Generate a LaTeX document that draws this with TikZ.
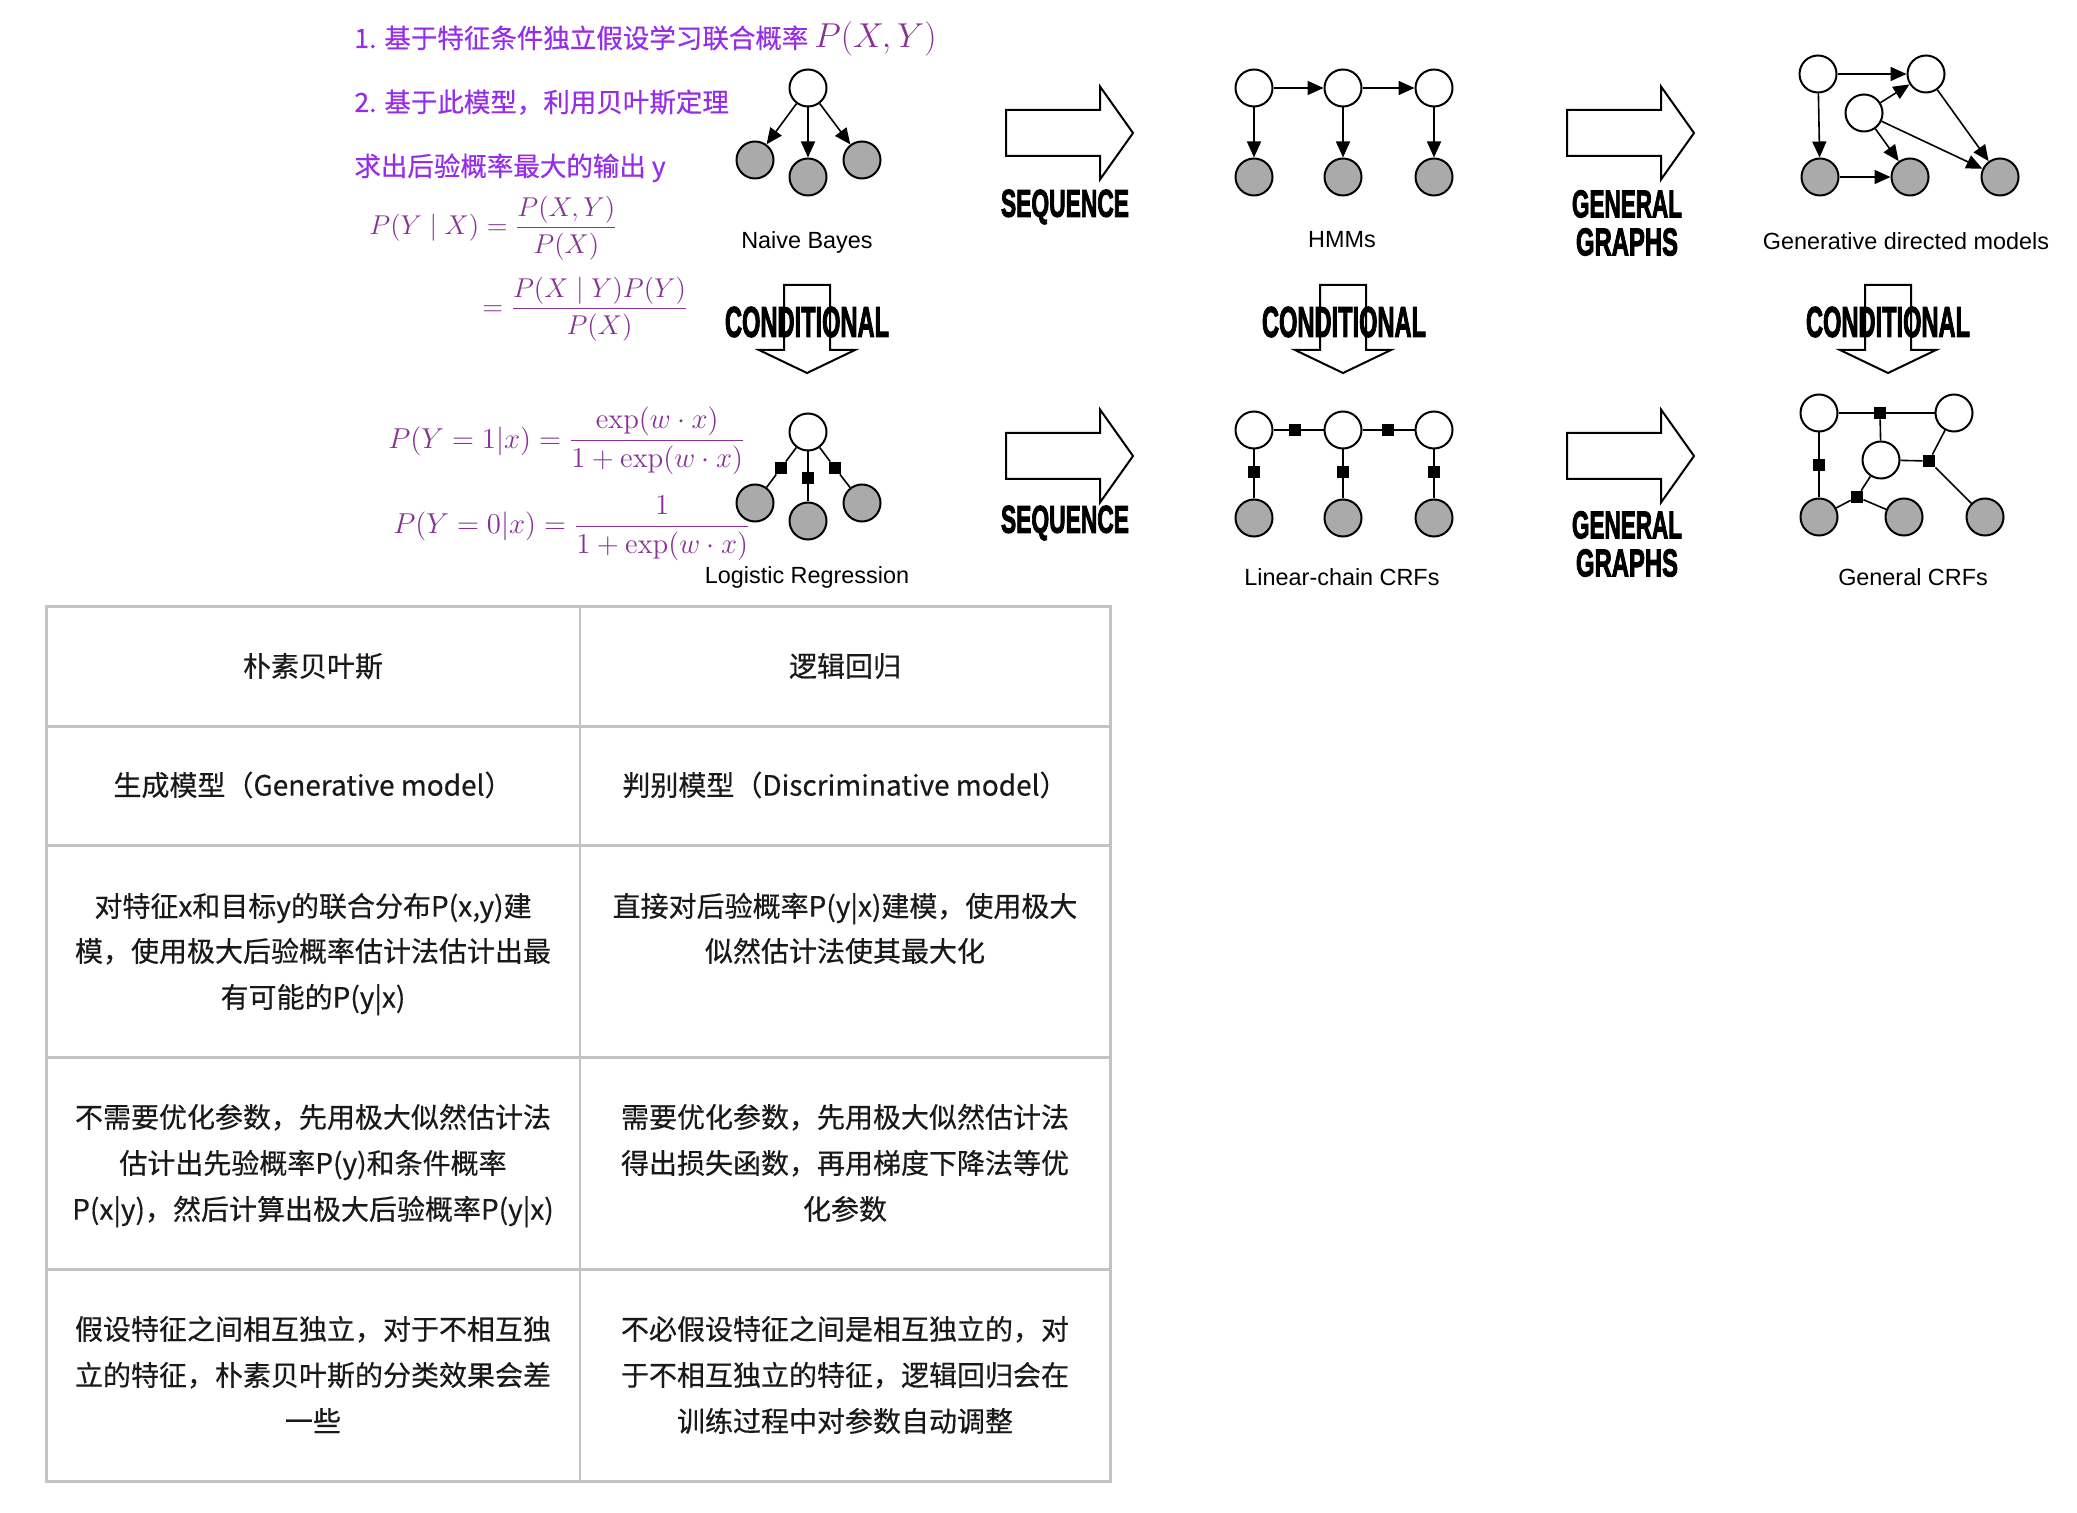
\documentclass[tikz,border=0pt]{standalone}
\usepackage{fix-cm}
\usepackage[no-math]{fontspec}
\usepackage{amsmath}
\usepackage{graphicx}
\setmainfont{Liberation Sans}
\newfontfamily\cjk[FakeBold=0.4]{Noto Sans CJK SC}
\newfontfamily\impactfont[FakeBold=3]{Liberation Sans Bold}
\usetikzlibrary{arrows.meta}
\definecolor{txtviolet}{RGB}{150,45,235}
\definecolor{mathpurple}{RGB}{135,50,150}
\definecolor{nodegray}{RGB}{170,170,170}
\definecolor{tabline}{RGB}{195,195,195}
\definecolor{tabtext}{RGB}{25,25,25}
\newcommand{\bigword}[3]{\resizebox{#1}{#2}{\impactfont #3}}
\begin{document}
\begin{tikzpicture}[x=0.5pt,y=-0.5pt,
  wn/.style={circle,draw,line width=1pt,fill=white,minimum size=18.5pt,inner sep=0pt},
  gn/.style={wn,fill=nodegray},
  fac/.style={rectangle,fill=black,minimum size=6pt,inner sep=0pt},
  edge/.style={line width=0.8pt},
  arr/.style={edge,-{Triangle[length=8pt,width=7pt]}},
  bigarrow/.style={draw,line width=1pt,fill=white,line join=miter},
  lbl/.style={font=\fontsize{11.7}{13}\selectfont,text=black,inner sep=0pt},
  ptext/.style={font=\cjk\fontsize{13.25}{16}\selectfont,text=txtviolet,anchor=base west,inner sep=0pt},
  fml/.style={text=mathpurple,anchor=west,inner sep=0pt,font=\fontsize{14.4}{17}\selectfont},
  fmlsmall/.style={fml,font=\fontsize{13.6}{16}\selectfont},
  cell/.style={font=\cjk\fontsize{14}{17}\selectfont,text=tabtext,text height=13pt,text depth=2.4pt,inner sep=0pt},
  tab/.style={draw=tabline,line width=1.5pt},
  word/.style={inner sep=0pt}
]
\fill[white] (0,0) rectangle (2077,1513);
\useasboundingbox (0,0) rectangle (2077,1513);

% ---------- purple text ----------
\node[ptext] (t1) at (354,48) {1. 基于特征条件独立假设学习联合概率 {\fontsize{17.28}{20}\selectfont\color{mathpurple}$P(X,Y)$}};
\node[ptext] (t2) at (354,112) {2. 基于此模型，利用贝叶斯定理};
\node[ptext] (t3) at (354,176) {求出后验概率最大的输出 y};
\node[fmlsmall] (f1) at (369,228) {$P(Y\mid X)=\dfrac{P(X,Y)}{P(X)}$};
\node[fmlsmall] (f2) at (482,309) {$=\dfrac{P(X\mid Y)P(Y)}{P(X)}$};
\node[fml] (f3) at (388,441) {$P(Y=1|x)=\dfrac{\exp(w\cdot x)}{1+\exp(w\cdot x)}$};
\node[fml] (f4) at (393,528) {$P(Y=0|x)=\dfrac{1}{1+\exp(w\cdot x)}$};

% ---------- big arrows ----------
\foreach \xc in {807,1343,1888}{
  \begin{scope}[shift={(\xc,0)}]
    \draw[bigarrow] (-23,285) -- (23,285) -- (23,350) -- (48,350) -- (0,373) -- (-48,350) -- (-23,350) -- cycle;
  \end{scope}
}
\foreach \xl/\yc in {1006/133,1006/456,1567/133,1567/456}{
  \begin{scope}[shift={(\xl,\yc)}]
    \draw[bigarrow] (0,-23) -- (94,-23) -- (94,-46.5) -- (127,0) -- (94,46.5) -- (94,23) -- (0,23) -- cycle;
  \end{scope}
}
\node[word] (seq1) at (1065,207) {\bigword{64pt}{13.5pt}{SEQUENCE}};
\node[word] (seq2) at (1065,523) {\bigword{64pt}{13.5pt}{SEQUENCE}};
\node[word] (gen1) at (1627,204) {\bigword{55pt}{13.5pt}{GENERAL}};
\node[word] (gra1) at (1627,242) {\bigword{51pt}{13.5pt}{GRAPHS}};
\node[word] (gen2) at (1627,525) {\bigword{55pt}{13.5pt}{GENERAL}};
\node[word] (gra2) at (1627,563) {\bigword{51pt}{13.5pt}{GRAPHS}};
\node[word] (con1) at (807,322) {\bigword{82pt}{15pt}{CONDITIONAL}};
\node[word] (con2) at (1344,322) {\bigword{82pt}{15pt}{CONDITIONAL}};
\node[word] (con3) at (1888,322) {\bigword{82pt}{15pt}{CONDITIONAL}};

% ---------- Naive Bayes ----------
\node[wn] (nb0) at (808,88) {};
\node[gn] (nb1) at (755,160) {};
\node[gn] (nb2) at (808,177) {};
\node[gn] (nb3) at (862,160) {};
\draw[arr] (nb0) -- (nb1);
\draw[arr] (nb0) -- (nb2);
\draw[arr] (nb0) -- (nb3);
\node[lbl] (nbl) at (807,242) {Naive Bayes};

% ---------- HMMs ----------
\node[wn] (h1) at (1254,88) {};
\node[wn] (h2) at (1343,88) {};
\node[wn] (h3) at (1434,88) {};
\node[gn] (o1) at (1254,177) {};
\node[gn] (o2) at (1343,177) {};
\node[gn] (o3) at (1434,177) {};
\draw[arr] (h1) -- (h2);
\draw[arr] (h2) -- (h3);
\draw[arr] (h1) -- (o1);
\draw[arr] (h2) -- (o2);
\draw[arr] (h3) -- (o3);
\node[lbl] (hl) at (1342,240) {HMMs};

% ---------- Generative directed models ----------
\node[wn] (ga) at (1818,74) {};
\node[wn] (gb) at (1926,74) {};
\node[wn] (gc) at (1864,113) {};
\node[gn] (gd) at (1820,177) {};
\node[gn] (ge) at (1910,177) {};
\node[gn] (gf) at (2000,177) {};
\draw[arr] (ga) -- (gb);
\draw[arr] (ga) -- (gd);
\draw[arr] (gc) -- (gb);
\draw[arr] (gc) -- (ge);
\draw[arr] (gc) -- (gf);
\draw[arr] (gb) -- (gf);
\draw[arr] (gd) -- (ge);
\node[lbl] (gl) at (1906,241) {Generative directed models};

% ---------- Logistic Regression ----------
\node[wn] (lr0) at (808,432) {};
\node[gn] (lr1) at (755,503) {};
\node[gn] (lr2) at (808,521) {};
\node[gn] (lr3) at (862,503) {};
\node[fac] (lf1) at (781,468) {};
\node[fac] (lf2) at (808,478) {};
\node[fac] (lf3) at (835,468) {};
\draw[edge] (lr0) -- (lf1) -- (lr1);
\draw[edge] (lr0) -- (lf2) -- (lr2);
\draw[edge] (lr0) -- (lf3) -- (lr3);
\node[lbl] (lrl) at (807,577) {Logistic Regression};

% ---------- Linear-chain CRFs ----------
\node[wn] (c1) at (1254,430) {};
\node[wn] (c2) at (1343,430) {};
\node[wn] (c3) at (1434,430) {};
\node[gn] (d1) at (1254,518) {};
\node[gn] (d2) at (1343,518) {};
\node[gn] (d3) at (1434,518) {};
\node[fac] (cf12) at (1295,430) {};
\node[fac] (cf23) at (1388,430) {};
\node[fac] (cv1) at (1254,472) {};
\node[fac] (cv2) at (1343,472) {};
\node[fac] (cv3) at (1434,472) {};
\draw[edge] (c1) -- (cf12) -- (c2);
\draw[edge] (c2) -- (cf23) -- (c3);
\draw[edge] (c1) -- (cv1) -- (d1);
\draw[edge] (c2) -- (cv2) -- (d2);
\draw[edge] (c3) -- (cv3) -- (d3);
\node[lbl] (cl) at (1342,577) {Linear-chain CRFs};

% ---------- General CRFs ----------
\node[wn] (ra) at (1819,413) {};
\node[wn] (rb) at (1954,413) {};
\node[wn] (rc) at (1881,460) {};
\node[gn] (rd) at (1819,517) {};
\node[gn] (re) at (1904,517) {};
\node[gn] (rf) at (1985,517) {};
\node[fac] (rf1) at (1880,413) {};
\node[fac] (rf2) at (1819,465) {};
\node[fac] (rf3) at (1929,461) {};
\node[fac] (rf4) at (1857,497) {};
\draw[edge] (ra) -- (rf1) -- (rb);
\draw[edge] (rf1) -- (rc);
\draw[edge] (ra) -- (rf2) -- (rd);
\draw[edge] (rc) -- (rf3);
\draw[edge] (rf3) -- (rb);
\draw[edge] (rf3) -- (rf);
\draw[edge] (rc) -- (rf4);
\draw[edge] (rf4) -- (rd);
\draw[edge] (rf4) -- (re);
\node[lbl] (rl) at (1913,577) {General CRFs};

% ---------- table ----------
\draw[tab] (46,607) rectangle (1110,1481);
\foreach \yy in {726,845,1057,1269}{\draw[tab] (46,\yy) -- (1110,\yy);}
\draw[draw=tabline,line width=1pt] (580,607) -- (580,1481);

\node[cell] (a1) at (313,666) {朴素贝叶斯};
\node[cell] (b1) at (845,666) {逻辑回归};
\node[cell] (a2) at (313,785) {生成模型（Generative model）};
\node[cell] (b2) at (845,785) {判别模型（Discriminative model）};
\node[cell] (a3a) at (313,906) {对特征x和目标y的联合分布P(x,y)建};
\node[cell] (a3b) at (313,951) {模，使用极大后验概率估计法估计出最};
\node[cell] (a3c) at (313,997) {有可能的P(y|x)};
\node[cell] (b3a) at (845,906) {直接对后验概率P(y|x)建模，使用极大};
\node[cell] (b3b) at (845,951) {似然估计法使其最大化};
\node[cell] (a4a) at (313,1117) {不需要优化参数，先用极大似然估计法};
\node[cell] (a4b) at (313,1163) {估计出先验概率P(y)和条件概率};
\node[cell] (a4c) at (313,1209) {P(x|y)，然后计算出极大后验概率P(y|x)};
\node[cell] (b4a) at (845,1117) {需要优化参数，先用极大似然估计法};
\node[cell] (b4b) at (845,1163) {得出损失函数，再用梯度下降法等优};
\node[cell] (b4c) at (845,1209) {化参数};
\node[cell] (a5a) at (313,1329) {假设特征之间相互独立，对于不相互独};
\node[cell] (a5b) at (313,1375) {立的特征，朴素贝叶斯的分类效果会差};
\node[cell] (a5c) at (313,1421) {一些};
\node[cell] (b5a) at (845,1329) {不必假设特征之间是相互独立的，对};
\node[cell] (b5b) at (845,1375) {于不相互独立的特征，逻辑回归会在};
\node[cell] (b5c) at (845,1421) {训练过程中对参数自动调整};
\end{tikzpicture}
\end{document}
